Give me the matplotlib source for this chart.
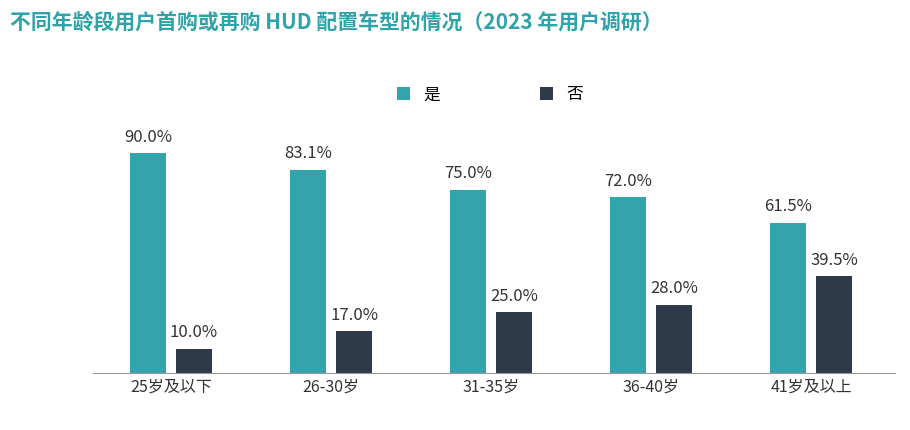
import matplotlib
matplotlib.use("Agg")
import matplotlib.pyplot as plt
from matplotlib import font_manager as fm
import numpy as np

cjk = [f.name for f in fm.fontManager.ttflist if "CJK" in f.name]
fams = ["Noto Sans CJK SC", "Noto Sans CJK JP", "Noto Sans CJK TC", "Noto Sans CJK KR"] + sorted(set(cjk))
avail = {f.name for f in fm.fontManager.ttflist}
fams = [f for f in fams if f in avail]
if not fams:
    for p in fm.findSystemFonts():
        if "CJK" in p or "cjk" in p.lower():
            try:
                fm.fontManager.addfont(p)
            except Exception:
                pass
    fams = sorted({f.name for f in fm.fontManager.ttflist if "CJK" in f.name})
plt.rcParams["font.family"] = fams + ["DejaVu Sans"]

categories = ["25岁及以下", "26-30岁", "31-35岁", "36-40岁", "41岁及以上"]
yes_vals = [90.0, 83.1, 75.0, 72.0, 61.5]
no_vals = [10.0, 17.0, 25.0, 28.0, 39.5]
series_names = ["是", "否"]

teal = "#33a4ab"
dark = "#2e3a4a"

fig = plt.figure(figsize=(9.1, 4.3), dpi=100)
ax = fig.add_axes([93/910, 57/430, 802/910, 313/430])
x = np.arange(len(categories))
w = 0.225
off = 0.144
b1 = ax.bar(x - off, yes_vals, w, color=teal, label=series_names[0])
b2 = ax.bar(x + off, no_vals, w, color=dark, label=series_names[1])
for bars, vals in ((b1, yes_vals), (b2, no_vals)):
    for r, v in zip(bars, vals):
        ax.text(r.get_x() + r.get_width()/2, v + 3, f"{v:.1f}%", ha="center",
                va="bottom", fontsize=12, color="#333333")
ax.set_xlim(-0.4875, 4.525)
ax.set_ylim(0, 128)
ax.set_yticks([])
ax.set_xticks(x)
ax.set_xticklabels(categories, fontsize=11.5, color="#333333")
ax.tick_params(axis="x", length=0, pad=4)
for s in ["top", "right", "left"]:
    ax.spines[s].set_visible(False)
ax.spines["bottom"].set_color("#999999")
fig.legend(handles=[b1, b2], loc="center", bbox_to_anchor=(490/910, 1 - 95/430),
           ncol=2, frameon=False, fontsize=12, handlelength=0.8, handleheight=0.8,
           columnspacing=6)
fig.text(10/910, 1 - 22/430, "不同年龄段用户首购或再购 HUD 配置车型的情况（2023 年用户调研）",
         fontsize=15, fontweight="bold", color="#2fa3a8", va="center", ha="left")
fig.savefig("out.png", dpi=100)
